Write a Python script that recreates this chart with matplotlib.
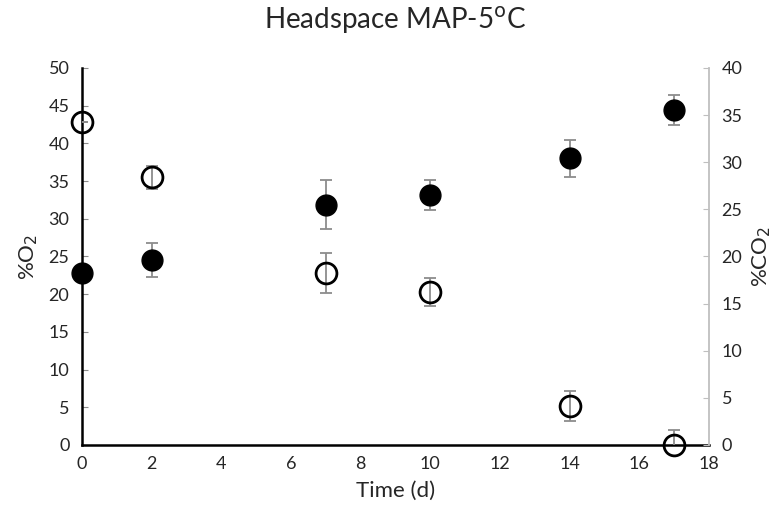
import matplotlib
matplotlib.use("Agg")
import matplotlib.pyplot as plt

plt.rcParams['font.family'] = ['Lato', 'DejaVu Sans']

# sampling days
days = [0, 2, 7, 10, 14, 17]

# O2 (%), left axis
o2 = [42.9, 35.5, 22.8, 20.3, 5.2, 0.0]
o2_err = [0.0, 1.5, 2.6, 1.8, 2.0, 2.0]

# CO2 (%), right axis
co2 = [18.3, 19.6, 25.5, 26.5, 30.4, 35.5]
co2_err = [0.0, 1.8, 2.6, 1.6, 2.0, 1.6]

x_ticks = [0, 2, 4, 6, 8, 10, 12, 14, 16, 18]
o2_ticks = [0, 5, 10, 15, 20, 25, 30, 35, 40, 45, 50]
co2_ticks = [0, 5, 10, 15, 20, 25, 30, 35, 40]

fig = plt.figure(figsize=(7.8, 5.19), dpi=100)
ax = fig.add_axes([0.105, 0.1426, 0.804, 0.7264])
ax2 = ax.twinx()

grey = '#8c8c8c'
txt = '#262626'

ax.errorbar(days, o2, yerr=o2_err, fmt='none', ecolor=grey, elinewidth=1.3,
            capsize=4, capthick=1.3, zorder=3)
ax.plot(days, o2, 'o', ms=15, mfc='none', mec='black', mew=2.0,
        zorder=4, clip_on=False)

ax2.errorbar(days, co2, yerr=co2_err, fmt='none', ecolor=grey, elinewidth=1.3,
             capsize=4, capthick=1.3, zorder=3)
ax2.plot(days, co2, 'o', ms=15, mfc='black', mec='black', mew=1.0,
         zorder=4, clip_on=False)

ax.set_xlim(0, 18)
ax.set_ylim(0, 50)
ax2.set_ylim(0, 40)
ax.set_xticks(x_ticks)
ax.set_yticks(o2_ticks)
ax2.set_yticks(co2_ticks)

for side in ['top', 'right']:
    ax.spines[side].set_visible(False)
for side in ['top', 'left', 'bottom']:
    ax2.spines[side].set_visible(False)
ax.spines['left'].set_color('black')
ax.spines['left'].set_linewidth(1.8)
ax.spines['bottom'].set_color('black')
ax.spines['bottom'].set_linewidth(1.8)
ax2.spines['right'].set_color('#bfbfbf')
ax2.spines['right'].set_linewidth(1.3)

ax.tick_params(axis='x', length=0, pad=8, labelsize=13, colors=txt)
ax.tick_params(axis='y', direction='in', length=4, color=grey, pad=9,
               labelsize=13, labelcolor=txt)
ax2.tick_params(axis='y', direction='in', length=4, color='#bfbfbf', pad=9,
                labelsize=13, labelcolor=txt)

ax.set_xlabel('Time (d)', fontsize=16, labelpad=6, color=txt)
ax.set_ylabel('%O$_2$', fontsize=16, labelpad=6, color=txt)
ax2.set_ylabel('%CO$_2$', fontsize=16, labelpad=6, color=txt)
ax.set_title('Headspace MAP-5$^{\\mathrm{o}}$C', fontsize=20, pad=28,
             color=txt)

fig.savefig('out.png', dpi=100)
